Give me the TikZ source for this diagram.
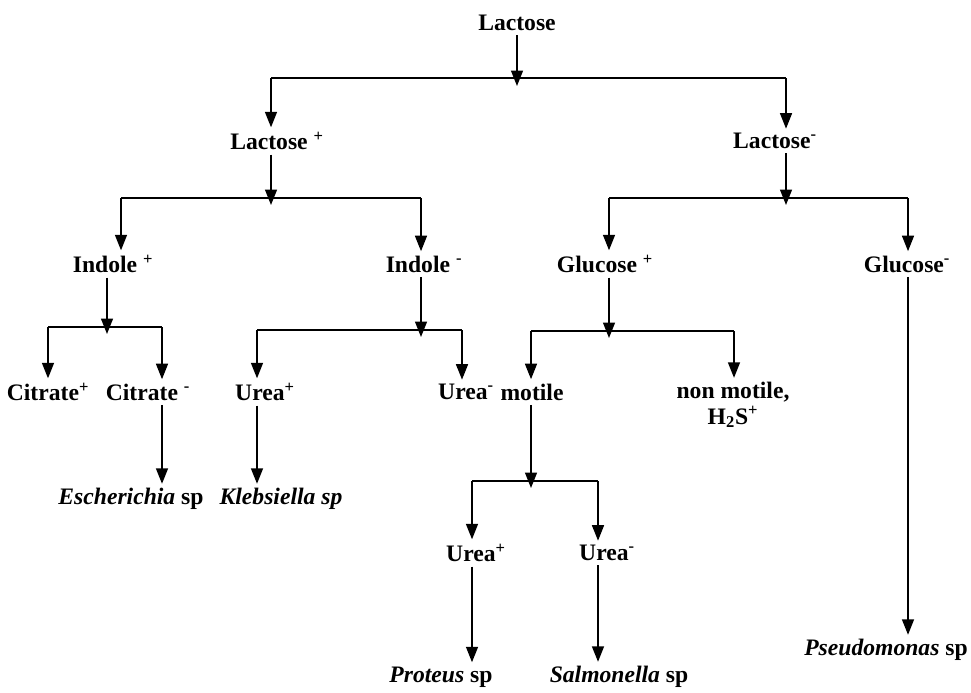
\documentclass[tikz,border=0pt]{standalone}
\usepackage{fontspec}
\setmainfont{Liberation Serif}
\usepackage{tikz}
\usetikzlibrary{arrows.meta}

\begin{document}
\begin{tikzpicture}[
  x=0.025cm, y=-0.025cm,
  lbl/.style={inner sep=3pt, font=\fontsize{16.8}{18}\selectfont\bfseries, align=center},
  arrow/.style={-{Triangle[length=11pt,width=8.5pt]}, line width=1.1pt},
  bar/.style={line width=1.3pt}
]
\useasboundingbox (0,0) rectangle (971,692);

% Root
\node[lbl] (lac) at (517,23) {Lactose};

% Lactose test
\node[lbl] (lacP) at (277,141) {Lactose \textsuperscript{+}};
\node[lbl] (lacN) at (775,141) {Lactose\textsuperscript{-}};

% Indole / glucose
\node[lbl] (indP) at (113,264) {Indole \textsuperscript{+}};
\node[lbl] (indN) at (424,264) {Indole \textsuperscript{-}};
\node[lbl] (gluP) at (605,264) {Glucose \textsuperscript{+}};
\node[lbl] (gluN) at (907,264) {Glucose\textsuperscript{-}};

% Citrate / urea / motility
\node[lbl] (citP) at (48,392) {Citrate\textsuperscript{+}};
\node[lbl] (citN) at (148,392) {Citrate \textsuperscript{-}};
\node[lbl] (ureaP) at (265,392) {Urea\textsuperscript{+}};
\node[lbl] (ureaN) at (466,392) {Urea\textsuperscript{-}};
\node[lbl] (motile) at (532,392) {motile};
\node[lbl] (nonmot) at (733,405) {non motile,\\H\textsubscript{2}S\textsuperscript{+}};

% Urea test of motile strains
\node[lbl] (ureaP2) at (476,553) {Urea\textsuperscript{+}};
\node[lbl] (ureaN2) at (607,553) {Urea\textsuperscript{-}};

% Genera
\node[lbl] (esch) at (131,499) {\textit{Escherichia} sp};
\node[lbl] (kleb) at (281,499) {\textit{Klebsiella sp}};
\node[lbl] (prot) at (441,677) {\textit{Proteus} sp};
\node[lbl] (salm) at (619,677) {\textit{Salmonella} sp};
\node[lbl] (pseu) at (886,650) {\textit{Pseudomonas} sp};

% Junctions
\coordinate (b1) at (517,86);
\coordinate (b1l) at (271,78);
\coordinate (b1r) at (786,78);
\coordinate (b2a) at (271,205);
\coordinate (b2al) at (121,198);
\coordinate (b2ar) at (421,198);
\coordinate (b2b) at (786,205);
\coordinate (b2bl) at (609,198);
\coordinate (b2br) at (908,198);
\coordinate (b3a) at (107,334);
\coordinate (b3al) at (48,327);
\coordinate (b3ar) at (162,327);
\coordinate (b3b) at (421,337);
\coordinate (b3bl) at (257,330);
\coordinate (b3br) at (462,330);
\coordinate (b3c) at (609,338);
\coordinate (b3cl) at (531,331);
\coordinate (b3cr) at (734,331);
\coordinate (b4) at (531,488);
\coordinate (b4l) at (472,481);
\coordinate (b4r) at (598,481);

% Bars
\draw[bar] (b1l) -- (b1r);
\draw[bar] (b2al) -- (b2ar);
\draw[bar] (b2bl) -- (b2br);
\draw[bar] (b3al) -- (b3ar);
\draw[bar] (b3bl) -- (b3br);
\draw[bar] (b3cl) -- (b3cr);
\draw[bar] (b4l) -- (b4r);

% Arrows
\draw[arrow] (lac.south -| b1) -- (b1);
\draw[arrow] (b1l) -- (b1l |- lacP.north);
\draw[arrow] (b1r) -- (b1r |- lacN.north);

\draw[arrow] (lacP.south -| b2a) -- (b2a);
\draw[arrow] (b2al) -- (b2al |- indP.north);
\draw[arrow] (b2ar) -- (b2ar |- indN.north);
\draw[arrow] (lacN.south -| b2b) -- (b2b);
\draw[arrow] (b2bl) -- (b2bl |- gluP.north);
\draw[arrow] (b2br) -- (b2br |- gluN.north);

\draw[arrow] (indP.south -| b3a) -- (b3a);
\draw[arrow] (b3al) -- (b3al |- citP.north);
\draw[arrow] (b3ar) -- (b3ar |- citN.north);
\draw[arrow] (indN.south -| b3b) -- (b3b);
\draw[arrow] (b3bl) -- (b3bl |- ureaP.north);
\draw[arrow] (b3br) -- (b3br |- ureaN.north);
\draw[arrow] (gluP.south -| b3c) -- (b3c);
\draw[arrow] (b3cl) -- (b3cl |- motile.north);
\draw[arrow] (b3cr) -- (b3cr |- nonmot.north);

\draw[arrow] (citN.south -| b3ar) -- (b3ar |- esch.north);
\draw[arrow] (ureaP.south -| b3bl) -- (b3bl |- kleb.north);
\draw[arrow] (motile.south -| b4) -- (b4);
\draw[arrow] (b4l) -- (b4l |- ureaP2.north);
\draw[arrow] (b4r) -- (b4r |- ureaN2.north);
\draw[arrow] (ureaP2.south -| b4l) -- (b4l |- prot.north);
\draw[arrow] (ureaN2.south -| b4r) -- (b4r |- salm.north);
\draw[arrow] (gluN.south -| b2br) -- (b2br |- pseu.north);

\end{tikzpicture}
\end{document}
